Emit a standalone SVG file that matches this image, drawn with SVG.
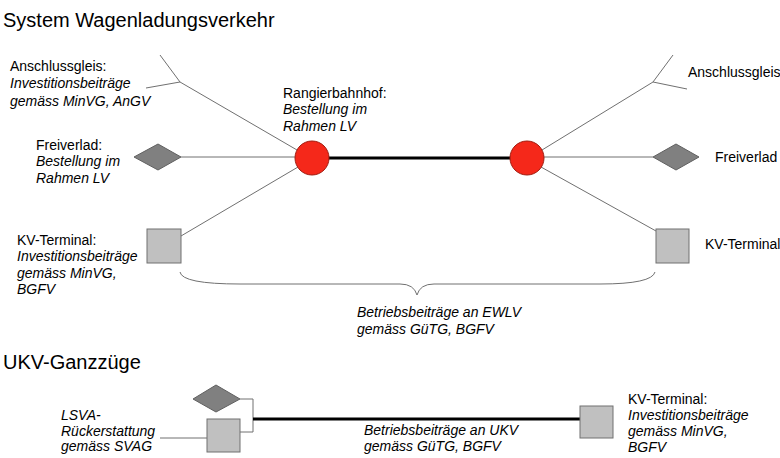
<svg xmlns="http://www.w3.org/2000/svg" width="780" height="458" viewBox="0 0 780 458">
  <style>
    text { font-family: "Liberation Sans", Arial, sans-serif; fill: #000; }
    .title { font-size: 20px; }
    .lbl { font-size: 14px; }
    .it { font-style: italic; }
    .thin { stroke: #707070; stroke-width: 1; fill: none; }
    .thick { stroke: #000; stroke-width: 3; fill: none; }
    .yard { fill: #f5281a; stroke: #a01c10; stroke-width: 1; }
    .load { fill: #808080; stroke: #606060; stroke-width: 1; }
    .term { fill: #c0c0c0; stroke: #707070; stroke-width: 1; }
  </style>

  <text class="title" x="3" y="27">System Wagenladungsverkehr</text>
  <text class="title" x="3" y="369">UKV-Ganzzüge</text>

  <!-- connectors -->
  <g id="connectors">
    <!-- siding forks -->
    <polyline class="thin" points="160,55 180,82 146,88"/>
    <line class="thin" x1="180" y1="82" x2="297" y2="150"/>
    <polyline class="thin" points="673,55 653,82 687,89"/>
    <line class="thin" x1="653" y1="82" x2="542" y2="150"/>
    <!-- free loading -->
    <line class="thin" x1="181" y1="157" x2="295" y2="157"/>
    <line class="thin" x1="544" y1="157" x2="653" y2="157"/>
    <!-- terminals -->
    <line class="thin" x1="181" y1="236" x2="298" y2="167"/>
    <line class="thin" x1="541" y1="167" x2="656" y2="231"/>
    <!-- main line between yards -->
    <line class="thick" x1="312" y1="158" x2="527" y2="158"/>
    <!-- brace -->
    <path class="thin" d="M180,272 Q182,284 240,284 L400,284 Q414,284 417,295 Q420,284 434,284 L600,284 Q652,284 655,272"/>
    <!-- UKV -->
    <polyline class="thin" points="240,399 253,399 253,432 240,432"/>
    <line class="thin" x1="160" y1="438" x2="207" y2="438"/>
    <line class="thick" x1="253" y1="419" x2="580" y2="419"/>
  </g>

  <g id="yard-left"><circle class="yard" cx="312" cy="158" r="17"/></g>
  <g id="yard-right"><circle class="yard" cx="527" cy="158" r="17"/></g>

  <g id="freiverlad-left"><polygon class="load" points="134,157 158,144 181,157 158,170"/></g>
  <g id="freiverlad-right"><polygon class="load" points="653,157 676,144 699,157 676,170"/></g>

  <g id="kv-left"><rect class="term" x="147" y="229" width="34" height="34"/></g>
  <g id="kv-right"><rect class="term" x="656" y="229" width="33" height="34"/></g>

  <g id="ukv-load"><polygon class="load" points="193,399 216,385 240,399 216,412"/></g>
  <g id="ukv-terminal-left"><rect class="term" x="207" y="419" width="33" height="33"/></g>
  <g id="ukv-terminal-right"><rect class="term" x="580" y="406" width="33" height="32"/></g>

  <!-- labels -->
  <g id="lbl-anschluss-left">
    <text class="lbl" x="10" y="71">Anschlussgleis:</text>
    <text class="lbl it" x="10" y="88">Investitionsbeiträge</text>
    <text class="lbl it" x="10" y="106">gemäss MinVG, AnGV</text>
  </g>
  <g id="lbl-freiverlad-left">
    <text class="lbl" x="36" y="150">Freiverlad:</text>
    <text class="lbl it" x="36" y="166">Bestellung im</text>
    <text class="lbl it" x="36" y="183">Rahmen LV</text>
  </g>
  <g id="lbl-kv-left">
    <text class="lbl" x="17" y="245">KV-Terminal:</text>
    <text class="lbl it" x="17" y="261">Investitionsbeiträge</text>
    <text class="lbl it" x="17" y="278">gemäss MinVG,</text>
    <text class="lbl it" x="17" y="294">BGFV</text>
  </g>
  <g id="lbl-rangier">
    <text class="lbl" x="283" y="98">Rangierbahnhof:</text>
    <text class="lbl it" x="283" y="114">Bestellung im</text>
    <text class="lbl it" x="283" y="131">Rahmen LV</text>
  </g>
  <text class="lbl" x="688" y="77">Anschlussgleis</text>
  <text class="lbl" x="715" y="162">Freiverlad</text>
  <text class="lbl" x="705" y="249">KV-Terminal</text>
  <g id="lbl-ewlv">
    <text class="lbl it" x="357" y="317">Betriebsbeiträge an EWLV</text>
    <text class="lbl it" x="357" y="334">gemäss GüTG, BGFV</text>
  </g>
  <g id="lbl-lsva">
    <text class="lbl it" x="61" y="420">LSVA-</text>
    <text class="lbl it" x="61" y="436">Rückerstattung</text>
    <text class="lbl it" x="61" y="451">gemäss SVAG</text>
  </g>
  <g id="lbl-ukv">
    <text class="lbl it" x="364" y="435">Betriebsbeiträge an UKV</text>
    <text class="lbl it" x="364" y="451">gemäss GüTG, BGFV</text>
  </g>
  <g id="lbl-kv-right">
    <text class="lbl" x="628" y="404">KV-Terminal:</text>
    <text class="lbl it" x="628" y="420">Investitionsbeiträge</text>
    <text class="lbl it" x="628" y="436">gemäss MinVG,</text>
    <text class="lbl it" x="628" y="452">BGFV</text>
  </g>
</svg>
